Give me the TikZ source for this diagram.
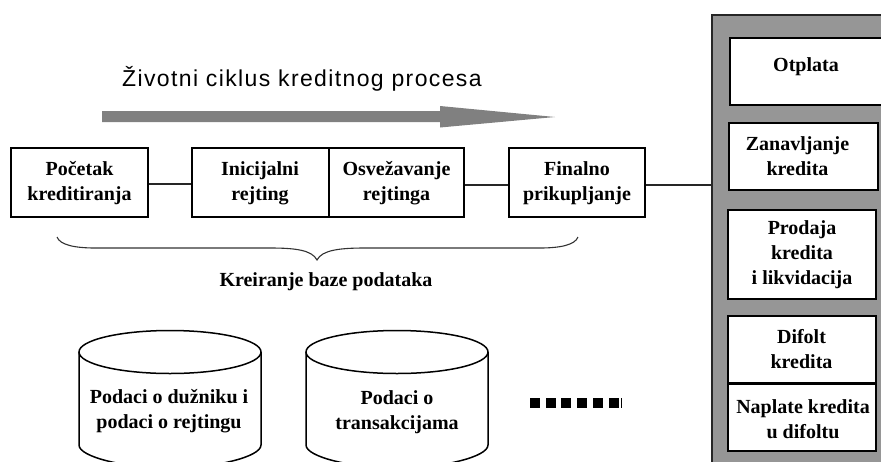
\documentclass[tikz,border=0pt]{standalone}
\usepackage{fontspec}
\setmainfont{Liberation Serif}
\newfontfamily\titlefont[LetterSpace=6]{Liberation Sans}
\definecolor{panelgray}{HTML}{969696}
\definecolor{arrowgray}{HTML}{808080}
\tikzset{
  lbl/.style={font=\bfseries\fontsize{20}{25}\selectfont,align=center,text=black,inner sep=0pt},
  pbox/.style={fill=white,draw=black,line width=1.5pt},
  stepbox/.style={draw=black,line width=1.4pt,fill=white,minimum height=69pt,inner sep=0pt},
  link/.style={draw=black!85,line width=1.2pt}
}
\begin{document}
\begin{tikzpicture}[x=1pt,y=-1pt]
\useasboundingbox (0,0) rectangle (881,461);
% panel
\path[fill=panelgray,draw=black!85,line width=1.4pt] (712,15) -- (890,15) -- (890,470) -- (712,470) -- cycle;
\coordinate (panelW) at (712,185);
% panel boxes
\path[pbox] (730,38) rectangle (890,105);
\path[pbox] (729,123) rectangle (878,190);
\path[pbox] (728,210) rectangle (876,299);
\path[pbox] (728,316) rectangle (876,383);
\path[pbox] (728,384) rectangle (876,451);
\node[lbl] (otplata) at (806,67) {Otplata};
\node[lbl] (zanav) at (797.5,156) {Zanavljanje\\kredita};
\node[lbl] (prodaja) at (802,255) {Prodaja\\kredita\\i likvidacija};
\node[lbl] (difolt) at (801.5,349) {Difolt\\kredita};
\node[lbl] (naplate) at (803,419) {Naplate kredita\\u difoltu};
% title + arrow
\node[anchor=base west,inner sep=0pt,font=\titlefont\fontsize{23}{26}\selectfont] (title) at (122,86) {Životni ciklus kreditnog procesa};
\path[fill=arrowgray] (102,111) -- (440,111) -- (440,106) -- (555,117) -- (440,127.5) -- (440,122) -- (102,122) -- cycle;
% process boxes
\node[stepbox,minimum width=137pt] (a) at (79.5,182.5) {};
\node[stepbox,minimum width=137pt] (b) at (260.5,182.5) {};
\node[stepbox,minimum width=135pt] (c) at (396.5,182.5) {};
\node[stepbox,minimum width=136pt] (d) at (577,182.5) {};
\node[lbl] (atext) at (79.5,183.5) {Početak\\kreditiranja};
\node[lbl] (btext) at (260,183.5) {Inicijalni\\rejting};
\node[lbl] (ctext) at (396.5,183.5) {Osvežavanje\\rejtinga};
\node[lbl] (dtext) at (577,183.5) {Finalno\\prikupljanje};
\draw[link] (a.east |- 0,184) -- (b.west |- 0,184);
\draw[link] (c.east |- 0,185) -- (d.west |- 0,185);
\draw[link] (d.east |- 0,185) -- (panelW);
% brace
\draw[black!80,line width=1.1pt] (57,237) .. controls (60,245) and (75,248) .. (95,248) -- (270,248) .. controls (295,248) and (312,250) .. (317,260) .. controls (322,250) and (340,248) .. (365,248) -- (540,248) .. controls (560,248) and (575,245) .. (578,237);
\node[lbl] (brlabel) at (326,282) {Kreiranje baze podataka};
% cylinders
\begin{scope}
\clip (0,0) rectangle (881,461);
\draw[pbox] (79,352) -- (79,445) .. controls (79,457) and (125,468) .. (170,468) .. controls (215,468) and (261,457) .. (261,445) -- (261,352);
\draw[pbox] (170,352) ellipse [x radius=91,y radius=21.5];
\draw[pbox] (306,352) -- (306,445) .. controls (306,457) and (352,468) .. (397,468) .. controls (442,468) and (488,457) .. (488,445) -- (488,352);
\draw[pbox] (397,352) ellipse [x radius=91,y radius=21.5];
\end{scope}
\node[lbl] (c1) at (169,411) {Podaci o dužniku i\\podaci o rejtingu};
\node[lbl] (c2) at (397,412) {Podaci o\\transakcijama};
% dots
\foreach \i in {0,...,5} \fill[black] ({530+\i*15.7},398) rectangle ++(10,10);
\fill[black] (621,398) rectangle (622,408);
\end{tikzpicture}
\end{document}
